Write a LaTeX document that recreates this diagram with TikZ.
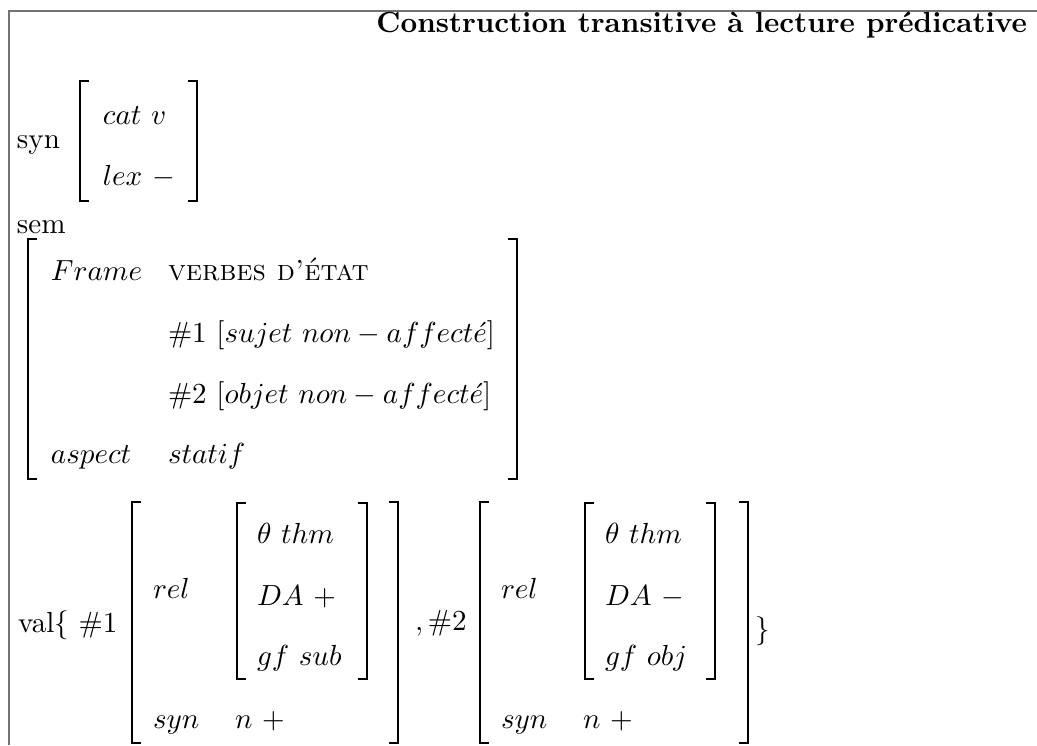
\documentclass[tikz,border=0pt]{standalone}
\begin{document}
\begin{tikzpicture}[x=0.344pt,y=-0.344pt,
  txt/.style={anchor=base west,inner sep=0pt,outer sep=0pt},
  brk/.style={line width=0.85pt,line join=miter,line cap=butt},
  frame/.style={draw=black!55,line width=0.45pt}]
\useasboundingbox (0,0) rectangle (1037,745);
\draw[frame] (9,745) -- (9,11) -- (1037,11);
\node[txt,anchor=base east] (title) at (1027,32) {\textbf{Construction transitive à lecture prédicative}};
% syn
\node[txt] (syn) at (17,148) {syn};
\draw[brk] (89,81) -- (80,81) -- (80,201) -- (89,201);
\draw[brk] (188,81) -- (197,81) -- (197,201) -- (188,201);
\node[txt] (cat) at (103,124) {$cat\ v$};
\node[txt] (lex) at (103,185) {$lex\ -$};
% sem
\node[txt] (sem) at (17,233) {sem};
\draw[brk] (37,239) -- (28,239) -- (28,479) -- (37,479);
\draw[brk] (508,239) -- (517,239) -- (517,479) -- (508,479);
\node[txt] (frm) at (51,280) {$Frame$};
\node[txt] (verbes) at (168,280) {\textsc{verbes d'état}};
\node[txt] (r1) at (168,342) {$\#1\ [sujet\ non-affect\acute{e}]$};
\node[txt] (r2) at (168,403) {$\#2\ [objet\ non-affect\acute{e}]$};
\node[txt] (asp) at (51,463) {$aspect$};
\node[txt] (stat) at (168,463) {$statif$};
% val
\node[txt] (val) at (18,632) {val$\{$ $\#1$};
\draw[brk] (141,502) -- (132,502) -- (132,743) -- (141,743);
\draw[brk] (389,502) -- (398,502) -- (398,743) -- (389,743);
\draw[brk] (246,503) -- (237,503) -- (237,679) -- (246,679);
\draw[brk] (358,503) -- (367,503) -- (367,679) -- (358,679);
\node[txt] (rela) at (153,598) {$rel$};
\node[txt] (tha) at (257,543) {$\theta\ thm$};
\node[txt] (daa) at (257,605) {$DA\ +$};
\node[txt] (gfa) at (257,665) {$gf\ sub$};
\node[txt] (syna) at (153,728) {$syn$};
\node[txt] (na) at (235,728) {$n\ +$};
\node[txt] (two) at (415,630) {$,\#2$};
\draw[brk] (489,502) -- (480,502) -- (480,743) -- (489,743);
\draw[brk] (739,502) -- (748,502) -- (748,743) -- (739,743);
\draw[brk] (594,503) -- (585,503) -- (585,679) -- (594,679);
\draw[brk] (706,503) -- (715,503) -- (715,679) -- (706,679);
\node[txt] (relb) at (501,598) {$rel$};
\node[txt] (thb) at (605,543) {$\theta\ thm$};
\node[txt] (dab) at (605,605) {$DA\ -$};
\node[txt] (gfb) at (605,665) {$gf\ obj$};
\node[txt] (synb) at (501,728) {$syn$};
\node[txt] (nb) at (583,728) {$n\ +$};
\node[txt] (close) at (755,638) {$\}$};
\end{tikzpicture}
\end{document}
